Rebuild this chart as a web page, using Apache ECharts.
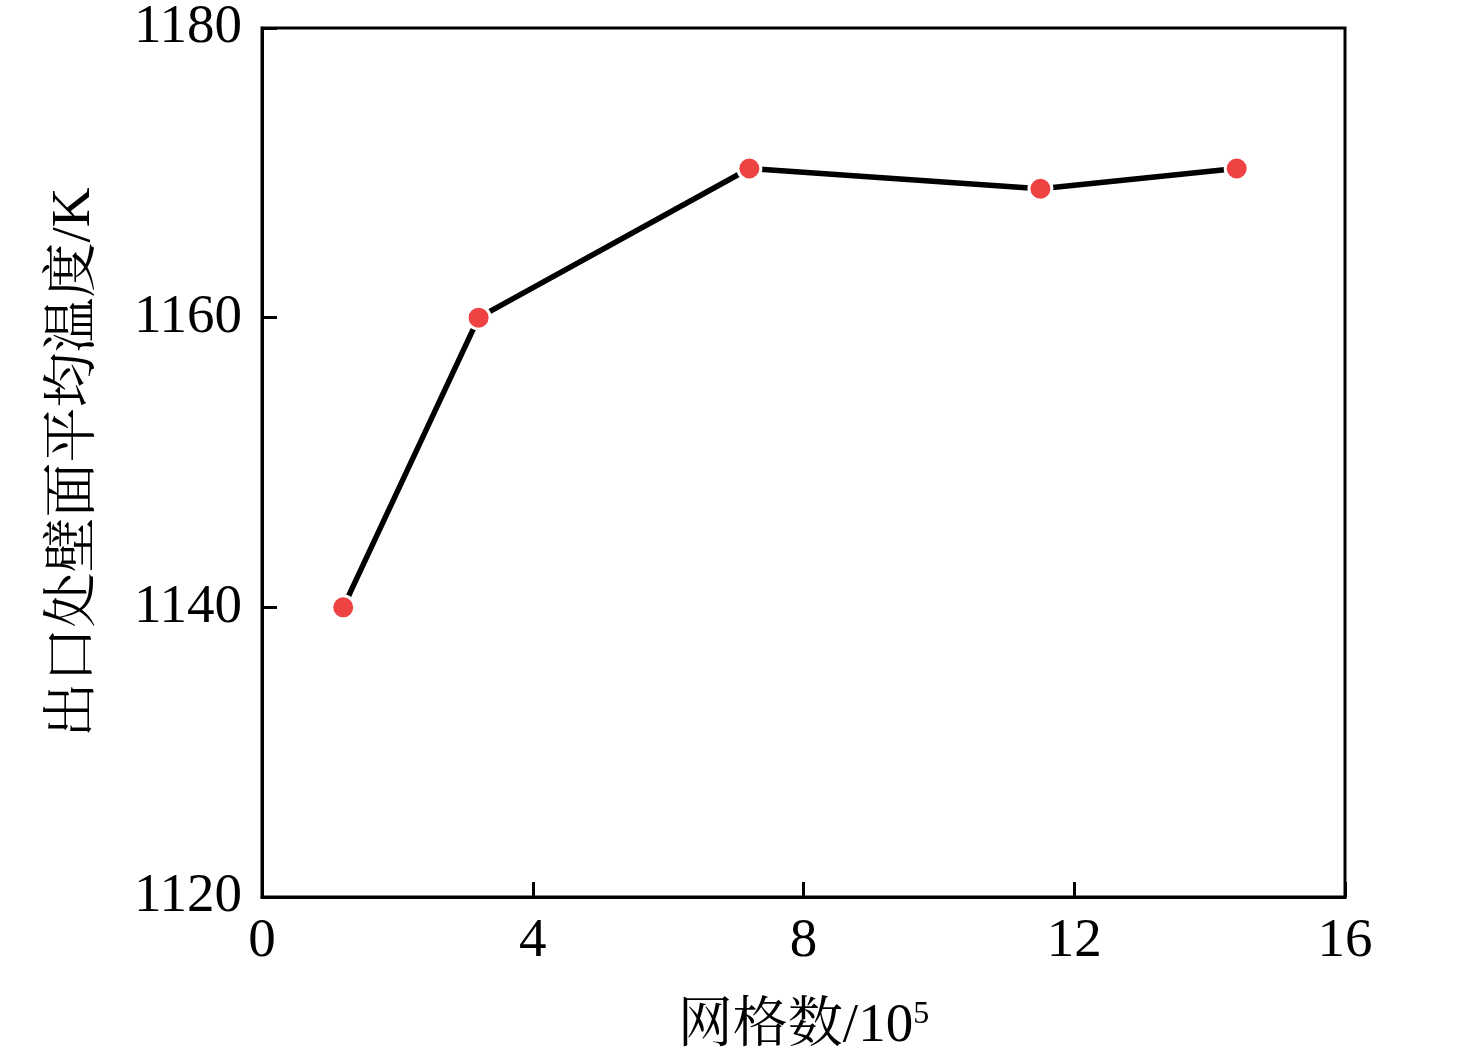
<!DOCTYPE html>
<html>
<head>
<meta charset="utf-8">
<style>
  html, body { margin: 0; padding: 0; background: #fff; }
  #chart { width: 1476px; height: 1064px; }
</style>
<script src="https://cdn.jsdelivr.net/npm/echarts@6/dist/echarts.min.js"></script>
</head>
<body>
<div id="chart"></div>
<script>
// 网格数 (×10^5) 与出口处壁面平均温度 (K)
const gridCounts = [1.2, 3.2, 7.2, 11.5, 14.4];
const wallTemps = [1140, 1160, 1170.3, 1168.9, 1170.3];

const xTicks = { min: 0, max: 16, interval: 4 };
const yTicks = { min: 1120, max: 1180, interval: 20 };

const fontFamily = "'Times New Roman', 'Liberation Serif', 'Noto Serif CJK SC', 'Noto Sans CJK SC', serif";

const chart = echarts.init(document.getElementById('chart'));

const axisCommon = {
    axisLine: { show: true, lineStyle: { color: '#000', width: 3 } },
    axisTick: { show: true, inside: true, length: 15, lineStyle: { color: '#000', width: 3 } },
    splitLine: { show: false },
    axisLabel: { color: '#000', fontSize: 55, fontFamily: fontFamily }
};

const option = {
    animation: false,
    backgroundColor: '#fff',
    grid: {
        left: 262, top: 28, right: 131, bottom: 167,
        show: true, borderColor: '#000', borderWidth: 3
    },
    xAxis: Object.assign({}, axisCommon, {
        type: 'value',
        min: xTicks.min, max: xTicks.max, interval: xTicks.interval,
        axisLabel: Object.assign({}, axisCommon.axisLabel, { margin: 17 }),
        name: '网格数/10{sup|5}',
        nameLocation: 'middle',
        nameGap: 102,
        nameTextStyle: {
            color: '#000', fontSize: 55, fontFamily: fontFamily,
            rich: {
                sup: { fontSize: 32, fontFamily: fontFamily, color: '#000', verticalAlign: 'top', padding: [0, 0, 22, 0] }
            }
        }
    }),
    yAxis: Object.assign({}, axisCommon, {
        type: 'value',
        min: yTicks.min, max: yTicks.max, interval: yTicks.interval,
        axisLabel: Object.assign({}, axisCommon.axisLabel, {
            margin: 20,
            formatter: v => String(v)
        }),
        name: '出口处壁面平均温度/K',
        nameLocation: 'middle',
        nameGap: 160,
        nameTextStyle: { color: '#000', fontSize: 55, fontFamily: fontFamily }
    }),
    series: [{
        type: 'line',
        data: gridCounts.map((x, i) => [x, wallTemps[i]]),
        symbol: 'circle',
        symbolSize: 23,
        lineStyle: { color: '#000', width: 5.5 },
        itemStyle: { color: '#EF4343', borderColor: '#fff', borderWidth: 3 },
        z: 3
    }]
};

chart.setOption(option);
</script>
</body>
</html>
